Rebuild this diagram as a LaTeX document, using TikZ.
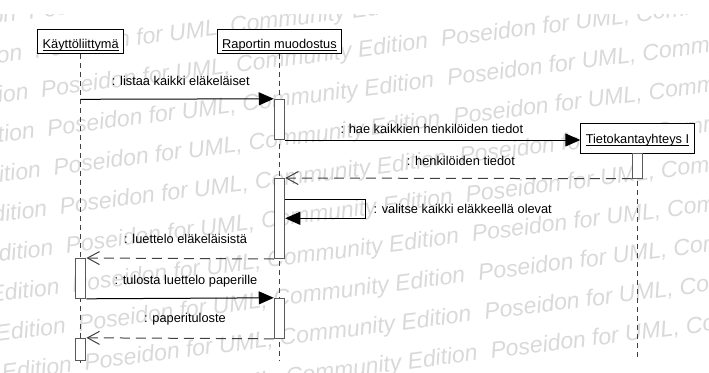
\documentclass[tikz,border=0pt]{standalone}
\usepackage{fontspec}
\setmainfont{Liberation Sans}
\usetikzlibrary{arrows.meta}
\definecolor{wmgray}{gray}{0.85}
\definecolor{linegray}{gray}{0.25}
\definecolor{actgray}{gray}{0.35}
\def\wmtext{Poseidon for UML, Community Edition\ \ \null}
% underlined object name, rule just under the baseline
\newcommand\objname[1]{\setbox0\hbox{#1}\rlap{\rule[-1.9pt]{\wd0}{0.9pt}}\box0}
\begin{document}
\begin{tikzpicture}[x=1pt,y=-1pt,
  every node/.style={font=\fontsize{12.8}{15}\selectfont},
  wmark/.style={font=\fontsize{23}{27}\selectfont\itshape, text=wmgray, inner sep=0pt, rotate=7.2},
  objbox/.style={draw=black, fill=white, line width=1pt, inner xsep=5pt, inner ysep=0pt,
                 minimum height=24pt, text height=15pt, text depth=0pt},
  actbox/.style={draw=actgray, fill=white, line width=1pt, minimum width=10.5pt, inner sep=0pt},
  lifeline/.style={draw=linegray, line width=1pt, dash pattern=on 5pt off 4pt},
  call/.style={draw=black, line width=1pt, -{Triangle[length=15pt,width=13pt]}},
  reply/.style={draw=linegray, line width=1pt, dash pattern=on 10pt off 6pt,
                -{Straight Barb[length=12pt,width=13pt]}},
  msglabel/.style={inner sep=0pt, anchor=base west}
]
\useasboundingbox (0,0) rectangle (709,372);

% background watermark rows
\begin{scope}
  \clip (0,14) rectangle (709,372);
  \foreach \j in {-2,...,8} {
    \coordinate (wm\j) at ({441.7+6.2*\j},{46.7+39*\j});
    \node[wmark, anchor=base west] (wmr\j) at (wm\j) {\wmtext\wmtext};
    \node[wmark, anchor=base east] (wml\j) at (wm\j) {\wmtext\wmtext};
  }
\end{scope}

% object heads
\node[objbox] (kb) at (80.7,41.3) {\objname{Käyttöliittymä}};
\node[objbox] (rb) at (279.5,41.3) {\objname{Raportin muodostus}};
\node[objbox, minimum height=30pt, text height=10.4pt] (tb) at (637.5,138.3) {\objname{Tietokantayhteys I}};

% lifeline ends
\coordinate (kend) at (80.7,363);
\coordinate (rend) at (279.5,360);
\coordinate (tend) at (637.5,357);
\draw[lifeline] (kb.south) -- (kend);
\draw[lifeline] (rb.south) -- (rend);
\draw[lifeline] (tb.south) -- (tend);

% activations
\node[actbox, minimum height=40.2pt] (ra1) at (279.5,119.4) {};
\node[actbox, minimum height=80pt]   (ra2) at (279.5,218.5) {};
\node[actbox, minimum height=40pt]   (ra3) at (279.5,318.3) {};
\node[actbox, minimum height=24.7pt] (ta1) at (637.5,165.9) {};
\node[actbox, minimum height=39.8pt] (ka1) at (80.7,278.4) {};
\node[actbox, minimum height=22.4pt] (ka2) at (80.7,349.5) {};

% messages
\coordinate (k1) at (80.7,99.3);
\draw[call] (k1) -- (ra1.north west);
\draw[call] (ra1.south east) -- (ra1.south east -| tb.west);
\draw[reply] (ta1.south west) -- (ra2.north east);
\coordinate (sy1) at (0,199.3);
\coordinate (sy2) at (0,218.3);
\coordinate (sx) at (365,0);
\draw[call] (ra2.east |- sy1) -- (sx |- sy1) -- (sx |- sy2) -- (ra2.east |- sy2);
\draw[reply] (ra2.south west) -- (ka1.north east);
\draw[call] (ka1.south east) -- (ra3.north west);
\draw[reply] (ra3.south west) -- (ka2.north east);

% message labels
\node[msglabel] (l1) at (111.7,85.5) {: listaa kaikki eläkeläiset};
\node[msglabel] (l2) at (340.3,133.3) {: hae kaikkien henkilöiden tiedot};
\node[msglabel] (l3) at (406.7,165) {: henkilöiden tiedot};
\node[msglabel] (l4) at (373.3,213) {: valitse kaikki eläkkeellä olevat};
\node[msglabel] (l5) at (124,243) {: luettelo eläkeläisistä};
\node[msglabel] (l6) at (114.3,284.3) {: tulosta luettelo paperille};
\node[msglabel] (l7) at (144,322.7) {: paperituloste};
\end{tikzpicture}
\end{document}
